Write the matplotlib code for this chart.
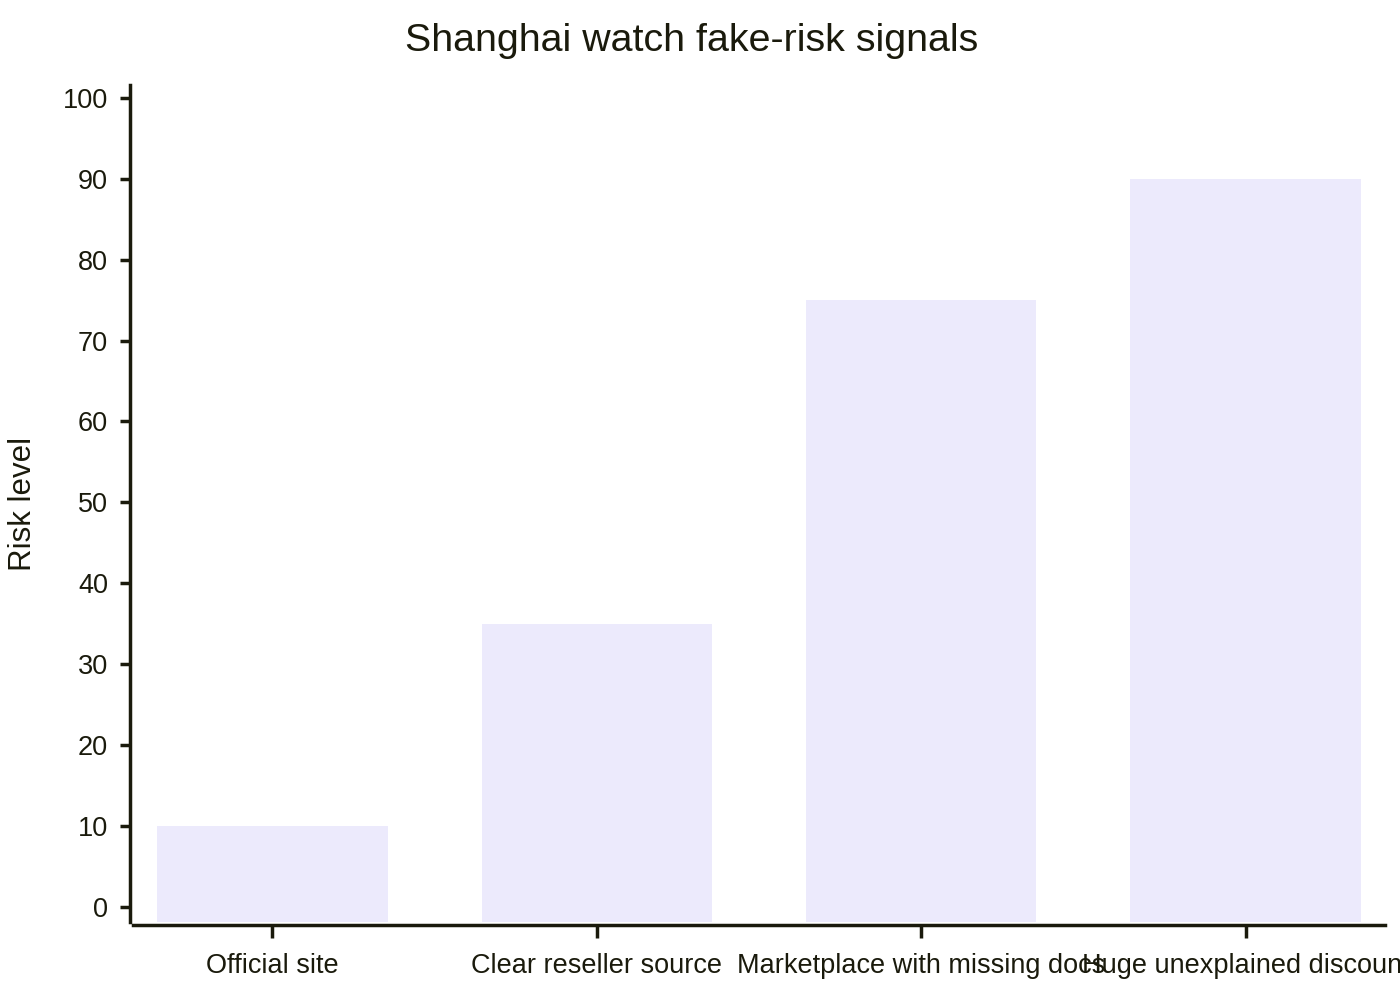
import matplotlib
matplotlib.use("Agg")
import matplotlib.pyplot as plt
import numpy as np

categories = ["Official site", "Clear reseller source", "Marketplace with missing docs", "Huge unexplained discount"]
risk = [10, 35, 75, 90]
yticks = [0, 10, 20, 30, 40, 50, 60, 70, 80, 90, 100]

plt.rcParams['font.family'] = ['Liberation Sans', 'DejaVu Sans']
ink = "#1a1a0c"
bar_color = "#ECEAFC"

fig = plt.figure(figsize=(14, 10), dpi=100)
ax = fig.add_axes([133/1400, 1 - 922/1000, (1385-133)/1400, (922-85)/1000])

ymin, ymax = -1.9, 101.6
x = np.arange(len(categories))
vals = np.array(risk, dtype=float)
ax.bar(x, vals - ymin, bottom=ymin, width=0.71, color=bar_color, edgecolor='none')
ax.set_ylim(ymin, ymax)
ax.set_xlim(-0.43, 3.43)
ax.set_yticks(yticks)
ax.set_xticks(x)
ax.set_xticklabels(categories)

for s in ['top', 'right']:
    ax.spines[s].set_visible(False)
for s in ['left', 'bottom']:
    ax.spines[s].set_linewidth(2.5)
    ax.spines[s].set_color(ink)
    ax.spines[s].set_position(('outward', 2))

ax.tick_params(axis='y', length=7, width=2.5, color=ink, labelcolor=ink, labelsize=19.5, pad=9)
ax.tick_params(axis='x', length=9, width=2.5, color=ink, labelcolor=ink, labelsize=19.5, pad=11)
for lbl in ax.get_xticklabels():
    lbl.set_clip_on(False)

ax.set_ylabel("Risk level", fontsize=22.5, color=ink)
ax.yaxis.set_label_coords(-0.076, 0.5)
fig.suptitle("Shanghai watch fake-risk signals", x=0.494, y=0.959, fontsize=28.4, color=ink, va='center')

fig.savefig("out.png", dpi=100, facecolor='white')
